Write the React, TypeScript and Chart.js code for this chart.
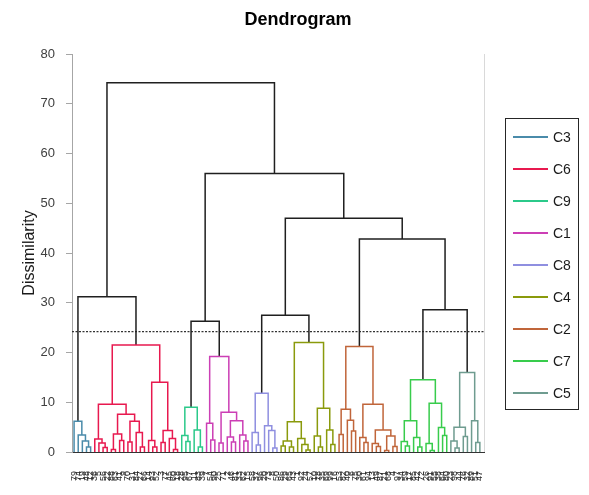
import React, { useEffect, useRef } from "react";
import { Chart, registerables } from "chart.js";
Chart.register(...registerables);

const FONT = '"Liberation Sans", Arial, sans-serif';

// Leaf labels (observation ids, left to right)
const LEAF_LABELS = [
  79, 74, 19, 48, 12,
  36, 5, 56, 22, 88, 63, 41, 9, 70, 31, 84, 27, 66, 14, 93, 52, 3, 77, 45, 60, 18,
  28, 95, 67, 11, 83, 39,
  7, 54, 90, 25, 71, 2, 46, 81, 33, 62, 15,
  58, 37, 96, 20, 73, 8, 50,
  86, 29, 65, 43, 1, 92, 24, 57, 10, 78, 35, 69, 99, 16,
  53, 82, 40, 6, 75, 30, 61, 94, 13, 49, 87, 21, 68, 4, 97,
  34, 59, 17, 85, 42, 72, 26, 91, 55, 38, 64, 80,
  23, 98, 44, 76, 32, 89, 51, 47,
];

type Node = number | [Node, Node, number];

const CLUSTER_NAMES = ["C3", "C6", "C9", "C1", "C8", "C4", "C2", "C7", "C5"];
const CLUSTER_COLORS = ["#4A8BAA", "#E8194F", "#2BC98A", "#CC3FB5", "#8F8FE0", "#8A9A0C", "#C0653A", "#38CC4C", "#6F9C90"];

// Merge trees per cluster: [left, right, height], leaves are leaf positions
const C3_TREE: Node = [0, [1, [2, [3, 4, 1.0], 2.2], 3.4], 6.2];
const C6_TREE: Node = [
  [[5, [6, [7, 8, 0.9], 1.8], 2.6], [[[9, 10, 0.5], [11, 12, 2.3], 3.6], [[13, 14, 2.0], [15, [16, 17, 1.0], 3.9], 6.2], 7.6], 9.6],
  [[18, [19, 20, 1.0], 2.3], [[21, 22, 1.9], [23, [24, 25, 0.5], 2.7], 4.3], 14.0],
  21.5,
];
const C9_TREE: Node = [[26, [27, 28, 2.1], 3.3], [29, [30, 31, 1.0], 4.4], 9.0];
const C1_TREE: Node = [[32, [33, 34, 2.4], 5.8], [[35, 36, 1.8], [[37, [38, 39, 2.0], 3.0], [40, [41, 42, 2.2], 3.4], 6.3], 8.0], 19.2];
const C8_TREE: Node = [[43, [44, 45, 1.4], 3.9], [46, [47, [48, 49, 0.8], 4.3], 5.3], 11.8];
const C4_TREE: Node = [
  [[[50, 51, 1.2], [52, 53, 1.0], 2.2], [54, [55, [56, 57, 0.4], 1.5], 2.7], 6.1],
  [[58, [59, 60, 1.0], 3.2], [61, [62, 63, 1.5], 4.4], 8.8],
  22.0,
];
const C2_TREE: Node = [
  [[64, 65, 3.5], [66, [67, 68, 4.2], 6.4], 8.6],
  [[69, [70, 71, 1.9], 2.9], [[72, [73, 74, 1.1], 1.7], [[75, 76, 0.3], [77, 78, 1.1], 3.2], 4.4], 9.6],
  21.2,
];
const C7_TREE: Node = [
  [[79, [80, 81, 1.2], 2.1], [82, [83, 84, 1.0], 2.9], 6.3],
  [[85, [86, 87, 0.3], 1.7], [88, [89, 90, 3.3], 4.9], 9.8],
  14.5,
];
const C5_TREE: Node = [[[91, [92, 93, 0.8], 2.2], [94, 95, 3.1], 5.0], [96, [97, 98, 1.9], 6.3], 16.0];
const CLUSTER_TREES: Node[] = [C3_TREE, C6_TREE, C9_TREE, C1_TREE, C8_TREE, C4_TREE, C2_TREE, C7_TREE, C5_TREE];

type Link = string | [Link, Link, number];
const UPPER_TREE: Link = [
  ["C3", "C6", 31.2],
  [["C9", "C1", 26.3], [["C8", "C4", 27.5], ["C2", ["C7", "C5", 28.6], 42.8], 47.0], 56.0],
  74.2,
];
const CUT_LEVEL = 24.2;

const X_MIN = -0.5;
const X_MAX = 99;
const Y_TICK_STEP = 10;
const Y_MAX = 80;

type Pt = { x: number; y: number | null };

function buildNode(node: any, segs: Pt[], leafPos: (n: any) => { x: number; y: number }): { x: number; y: number } {
  if (!Array.isArray(node)) return leafPos(node);
  const [l, r, h] = node;
  const a = buildNode(l, segs, leafPos);
  const b = buildNode(r, segs, leafPos);
  segs.push({ x: a.x, y: a.y }, { x: a.x, y: h }, { x: b.x, y: h }, { x: b.x, y: b.y }, { x: b.x, y: null });
  return { x: (a.x + b.x) / 2, y: h };
}

function makeDatasets() {
  const tops: Record<string, { x: number; y: number }> = {};
  const datasets: any[] = [];
  CLUSTER_TREES.forEach((tree, i) => {
    const segs: Pt[] = [];
    tops[CLUSTER_NAMES[i]] = buildNode(tree, segs, (n: number) => ({ x: n, y: 0 }));
    datasets.push({ label: CLUSTER_NAMES[i], data: segs, borderColor: CLUSTER_COLORS[i] });
  });
  const upper: Pt[] = [];
  buildNode(UPPER_TREE, upper, (n: string) => tops[n]);
  datasets.push({ label: "links", data: upper, borderColor: "#1f1f1f" });
  datasets.push({
    label: "cut",
    data: [{ x: X_MIN, y: CUT_LEVEL }, { x: X_MAX, y: CUT_LEVEL }],
    borderColor: "#333333",
    borderDash: [2, 1.5],
    borderWidth: 1.3,
  });
  return datasets.map((d) => ({
    borderWidth: 1.5,
    pointRadius: 0,
    pointHoverRadius: 0,
    fill: false,
    tension: 0,
    spanGaps: false,
    borderCapStyle: "butt",
    borderJoinStyle: "miter",
    ...d,
  }));
}

const overlayPlugin = {
  id: "overlay",
  afterDraw(chart: any) {
    const ctx = chart.ctx as CanvasRenderingContext2D;
    const { top, bottom, right } = chart.chartArea;
    ctx.save();
    // right frame line
    ctx.strokeStyle = "#D9D9D9";
    ctx.lineWidth = 1;
    ctx.beginPath();
    ctx.moveTo(Math.round(right) + 0.5, top);
    ctx.lineTo(Math.round(right) + 0.5, bottom);
    ctx.stroke();
    // title
    ctx.fillStyle = "#000";
    ctx.font = `bold 18px ${FONT}`;
    ctx.textAlign = "center";
    ctx.textBaseline = "middle";
    ctx.fillText("Dendrogram", 298, 20);
    // legend
    ctx.strokeStyle = "#262626";
    ctx.lineWidth = 1;
    ctx.strokeRect(505.5, 118.5, 73, 291);
    ctx.font = `14px ${FONT}`;
    ctx.textAlign = "left";
    CLUSTER_NAMES.forEach((name, i) => {
      const y = 137 + i * 32;
      ctx.strokeStyle = CLUSTER_COLORS[i];
      ctx.lineWidth = 2;
      ctx.beginPath();
      ctx.moveTo(513, y);
      ctx.lineTo(548, y);
      ctx.stroke();
      ctx.fillStyle = "#1a1a1a";
      ctx.fillText(name, 553, y + 1);
    });
    ctx.restore();
  },
};

export default function App() {
  const ref = useRef<HTMLCanvasElement>(null);
  useEffect(() => {
    Chart.defaults.font.family = FONT;
    const chart = new Chart(ref.current as HTMLCanvasElement, {
      type: "line",
      data: { datasets: makeDatasets() as any },
      options: {
        responsive: false,
        animation: false,
        events: [],
        layout: { padding: { top: 54, right: 105, left: 0, bottom: 0 } },
        plugins: { legend: { display: false }, tooltip: { enabled: false }, title: { display: false } },
        scales: {
          x: {
            type: "linear",
            min: X_MIN,
            max: X_MAX,
            grid: { display: false },
            border: { display: true, color: "#333333", width: 1 },
            afterBuildTicks: (s: any) => {
              s.ticks = LEAF_LABELS.map((_, i) => ({ value: i }));
            },
            afterFit: (s: any) => {
              s.height = 43;
            },
            ticks: {
              autoSkip: false,
              minRotation: 90,
              maxRotation: 90,
              padding: 11,
              font: { size: 9 },
              color: "#262626",
              callback: (v: any) => String(LEAF_LABELS[v] ?? ""),
            },
          },
          y: {
            min: 0,
            max: Y_MAX,
            afterFit: (s: any) => {
              s.width = 72;
            },
            ticks: { stepSize: Y_TICK_STEP, padding: 11, font: { size: 13 }, color: "#404040" },
            grid: { drawOnChartArea: false, tickLength: 6, color: "#A6A6A6" },
            border: { color: "#A6A6A6", width: 1 },
            title: {
              display: true,
              text: "Dissimilarity",
              font: { size: 16 },
              color: "#1a1a1a",
              padding: { top: 20, bottom: 0 },
            },
          },
        },
      },
      plugins: [overlayPlugin],
    } as any);
    return () => chart.destroy();
  }, []);
  return (
    <div style={{ position: "fixed", left: 0, top: 0, width: 589, height: 495, background: "#fff" }}>
      <canvas ref={ref} width={589} height={495} style={{ display: "block" }} />
    </div>
  );
}
